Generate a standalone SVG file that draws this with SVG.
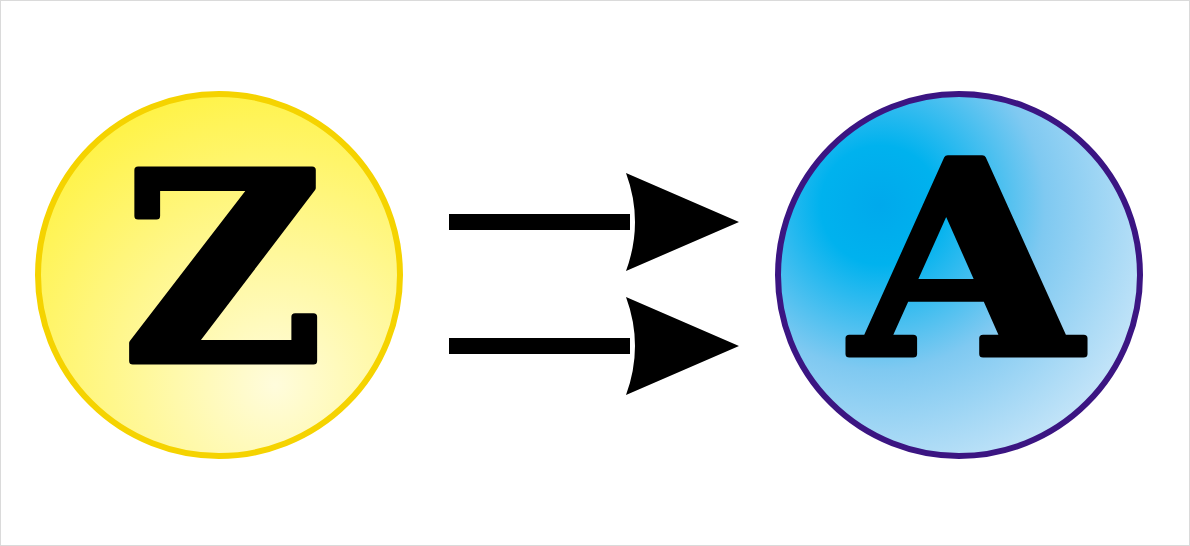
<svg xmlns="http://www.w3.org/2000/svg" width="1190" height="546" viewBox="0 0 1190 546">
  <defs>
    <radialGradient id="gYellow" gradientUnits="userSpaceOnUse" cx="275" cy="385" r="330">
      <stop offset="0" stop-color="#FFFCDC"/>
      <stop offset="1" stop-color="#FFF23A"/>
    </radialGradient>
    <radialGradient id="gBlue" gradientUnits="userSpaceOnUse" cx="880" cy="205" r="330">
      <stop offset="0" stop-color="#00A9EC"/>
      <stop offset="0.18" stop-color="#00B2EE"/>
      <stop offset="0.5" stop-color="#7FC9F1"/>
      <stop offset="1" stop-color="#DCEEFB"/>
    </radialGradient>
    <marker id="head" viewBox="0 0 113 98" refX="0" refY="49" markerWidth="113" markerHeight="98" markerUnits="userSpaceOnUse" orient="auto">
      <path d="M0,0 L113,49 L0,98 Q18,49 0,0 Z" fill="#000"/>
    </marker>
    <style>
      .node-circle { stroke-width: 6; }
      .letter { font-family: "DejaVu Serif", "Liberation Serif", serif; font-weight: bold; fill: #000; stroke: #000; stroke-width: 7; stroke-linejoin: round; text-anchor: middle; }
      .shaft { stroke: #000; stroke-width: 16; fill: none; }
    </style>
  </defs>
  <rect x="0.5" y="0.5" width="1189" height="545" fill="#FFFFFF" stroke="#DADADA" stroke-width="1"/>

  <g id="node-z">
    <circle class="node-circle" cx="219" cy="275" r="181" fill="url(#gYellow)" stroke="#F5D300"/>
    <text class="letter" x="0" y="0" font-size="262" transform="translate(223 361) scale(1.05 1)">Z</text>
  </g>

  <g id="node-a">
    <circle class="node-circle" cx="959" cy="275" r="181" fill="url(#gBlue)" stroke="#3B1582"/>
    <text class="letter" x="0" y="0" font-size="268" transform="translate(966 354) scale(1.1 1)">A</text>
  </g>

  <g id="connectors">
    <line class="shaft" x1="449" y1="222" x2="630" y2="222"/>
    <path d="M626,173 L739,222 L626,271 Q644,222 626,173 Z" fill="#000"/>
    <line class="shaft" x1="449" y1="346" x2="630" y2="346"/>
    <path d="M626,297 L739,346 L626,395 Q644,346 626,297 Z" fill="#000"/>
  </g>
</svg>
